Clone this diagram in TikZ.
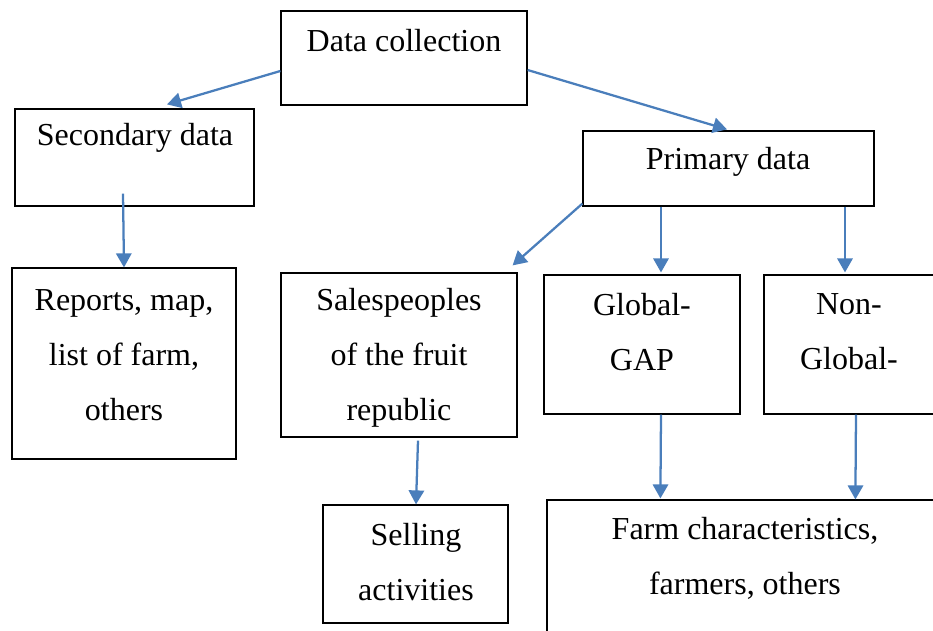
\documentclass[tikz,border=0pt]{standalone}
\usepackage{fontspec}
\setmainfont{Liberation Serif}
\usetikzlibrary{arrows.meta,calc}
\definecolor{arrowblue}{RGB}{74,126,187}
\tikzset{
  box/.style={draw=black, line width=0.9pt, inner sep=0pt},
  txt/.style={align=center, inner sep=0pt, font=\fontsize{24}{41.25}\selectfont},
  arr/.style={draw=arrowblue, line width=1.7pt, -{Triangle[length=10.5pt,width=11.5pt]}}
}

\begin{document}
\begin{tikzpicture}[x=0.75pt,y=-0.75pt]
    \clip (0,0) rectangle (933,631);

    % boxes
    \node[box, minimum width=184.5pt, minimum height=70.5pt] (collect) at (404,58) {};
    \node[box, minimum width=179.25pt, minimum height=72.75pt] (second) at (134.5,157.5) {};
    \node[box, minimum width=218.25pt, minimum height=56.25pt] (primary) at (728.5,168.5) {};
    \node[box, minimum width=168pt, minimum height=143.25pt] (reports) at (124,363.5) {};
    \node[box, minimum width=177pt, minimum height=123pt] (sales) at (399,355) {};
    \node[box, minimum width=147pt, minimum height=104.25pt] (gap) at (642,344.5) {};
    \node[box, minimum width=147pt, minimum height=104.25pt] (nongap) at (862,344.5) {};
    \node[box, minimum width=138.75pt, minimum height=88.5pt] (selling) at (415.5,564) {};
    \node[box, minimum width=298.5pt, minimum height=112.5pt] (farm) at (746,575) {};

    % texts
    \node[txt] (collect-t) at (404,41) {Data collection};
    \node[txt] (second-t) at (135,138) {Secondary data};
    \node[txt] (primary-t) at (728,162) {Primary data};
    \node[txt] (reports-t) at (124,355) {Reports, map,\\list of farm,\\others};
    \node[txt] (sales-t) at (399,358) {Salespeoples\\of the fruit\\republic};
    \node[txt] (gap-t) at (642,332) {Global-\\GAP};
    \node[txt] (nongap-t) at (849,332) {Non-\\Global-};
    \node[txt] (selling-t) at (416,562) {Selling\\activities};
    \node[txt] (farm-t) at (745,558) {Farm characteristics,\\farmers, others};

    % arrows
    \draw[arr] ($(collect.west)+(0,13)$) -- ($(second.north)+(32.5,-4)$);
    \draw[arr] ($(collect.east)+(0,12)$) -- ($(primary.north)+(-1.5,-1)$);
    \draw[arr] ($(second.south)+(-11.5,-13)$) -- (reports.north);
    \draw[arr] ($(primary.south west)+(0,-3)$) -- ($(sales.north east)+(-5,-7)$);
    \draw[arr] ($(primary.south)+(-67.5,0)$) -- ($(gap.north)+(19,-2)$);
    \draw[arr] ($(primary.south)+(116.5,0)$) -- ($(nongap.north)+(-17,-2)$);
    \draw[arr] ($(sales.south)+(19,3)$) -- ($(selling.north)+(0.5,0)$);
    \draw[arr] ($(gap.south)+(19,0)$) -- ($(farm.north west)+(114,-1)$);
    \draw[arr] ($(nongap.south)+(-6,0)$) -- ($(farm.north west)+(309,0)$);
\end{tikzpicture}
\end{document}
